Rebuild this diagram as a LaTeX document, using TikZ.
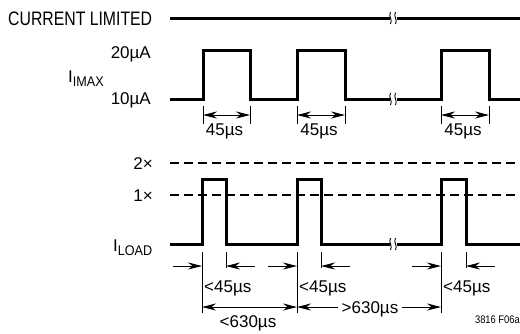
\documentclass[tikz,border=0pt]{standalone}
\usepackage{fontspec}
\setmainfont{Liberation Sans}
\usetikzlibrary{arrows.meta, calc}

\tikzset{
    wave/.style={line width=3pt, line join=miter},
    level/.style={line width=2.6pt, dash pattern=on 9pt off 5pt},
    dim/.style={line width=0.8pt},
    dimarrow/.style={line width=0.8pt, -{Stealth[length=14pt,width=7pt]}},
    dimboth/.style={line width=0.8pt, {Stealth[length=14pt,width=7pt]}-{Stealth[length=14pt,width=7pt]}},
    lbl/.style={font=\fontsize{17}{17}\selectfont, inner sep=0pt}
}

\newcommand{\breakmark}[2]{%
    \fill[white] (#1-3.5,#2-5) rectangle (#1+3.5,#2+5);
    \draw[line width=0.9pt] (#1-2.5,#2-6) .. controls (#1-5,#2-2) and (#1,#2+2) .. (#1-2.5,#2+6);
    \draw[line width=0.9pt] (#1+2.5,#2-6) .. controls (#1,#2-2) and (#1+5,#2+2) .. (#1+2.5,#2+6);
}
\newcommand{\lowsub}[1]{\raisebox{-4pt}{\fontsize{14}{14}\selectfont\scalebox{0.9}[1]{#1}}}

\begin{document}
\begin{tikzpicture}[x=1pt,y=-1pt]
\useasboundingbox (0,0) rectangle (520,333);

% Current limited trace
\node[lbl, anchor=base west, font=\fontsize{19.5}{19.5}\selectfont] (curlim) at (8,25.5) {\scalebox{0.81}[1]{CURRENT LIMITED}};
\draw[wave] (170,18) -- (520,18);
\breakmark{393}{18}

% I_IMAX trace
\node[lbl, anchor=base east] (hi) at (151,58) {20µA};
\node[lbl, anchor=base east] (lo) at (151,104.5) {10µA};
\node[lbl, anchor=base west] (imax) at (68,82) {I\lowsub{IMAX}};
\draw[wave] (170,99) -- (203,99) -- (203,50) -- (250,50) -- (250,99)
    -- (297,99) -- (297,50) -- (345,50) -- (345,99)
    -- (441,99) -- (441,50) -- (489,50) -- (489,99) -- (520,99);
\breakmark{393}{99}

% 45us pulse widths
\foreach \a/\b in {203/250, 297/345, 441/489} {
    \coordinate (wl) at (\a,115);
    \coordinate (wr) at (\b,115);
    \draw[dim] (\a,106) -- (\a,124);
    \draw[dim] (\b,106) -- (\b,124);
    \draw[dimboth] (wl) -- (wr);
    \node[lbl, anchor=base] at ($(wl)!0.5!(wr)+(-2,20.5)$) {45µs};
}

% Load levels
\node[lbl, anchor=base east] (two) at (153,169) {2×};
\node[lbl, anchor=base east] (one) at (153,201) {1×};
\draw[level] (170,163) -- (520,163);
\draw[level] (170,195) -- (520,195);

% I_LOAD trace
\node[lbl, anchor=base west] (iload) at (113,251) {I\lowsub{LOAD}};
\draw[wave] (170,244) -- (202,244) -- (202,179) -- (226,179) -- (226,244)
    -- (297,244) -- (297,179) -- (321,179) -- (321,244)
    -- (441,244) -- (441,179) -- (466,179) -- (466,244) -- (520,244);
\breakmark{393}{244}

% <45us pulse widths
\foreach \a/\b in {202/226, 297/321, 441/466} {
    \draw[dim] (\b,252) -- (\b,268);
    \draw[dimarrow] (\a-29,266) -- (\a,266);
    \draw[dimarrow] (\b+29,266) -- (\b,266);
    \node[lbl, anchor=base west] at (\a+2,292) {<45µs};
}
\draw[dim] (202,252) -- (202,313);
\draw[dim] (297,252) -- (297,313);
\draw[dim] (441,252) -- (441,313);

% Periods
\coordinate (p0) at (202,307);
\coordinate (p1) at (297,307);
\coordinate (p2) at (441,307);
\draw[dimboth] (p0) -- (p1);
\node[lbl, anchor=base] (short) at (248,327) {<630µs};
\node[lbl, fill=white, inner xsep=4pt, anchor=base] (long) at (370,313) {>630µs};
\draw[dimarrow] (long.west |- p1) -- (p1);
\draw[dimarrow] (long.east |- p2) -- (p2);

\node[font=\fontsize{11}{11}\selectfont, inner sep=0pt, anchor=base east] (fig) at (520,323) {\scalebox{0.85}[1]{3816 F06a}};

\end{tikzpicture}
\end{document}
